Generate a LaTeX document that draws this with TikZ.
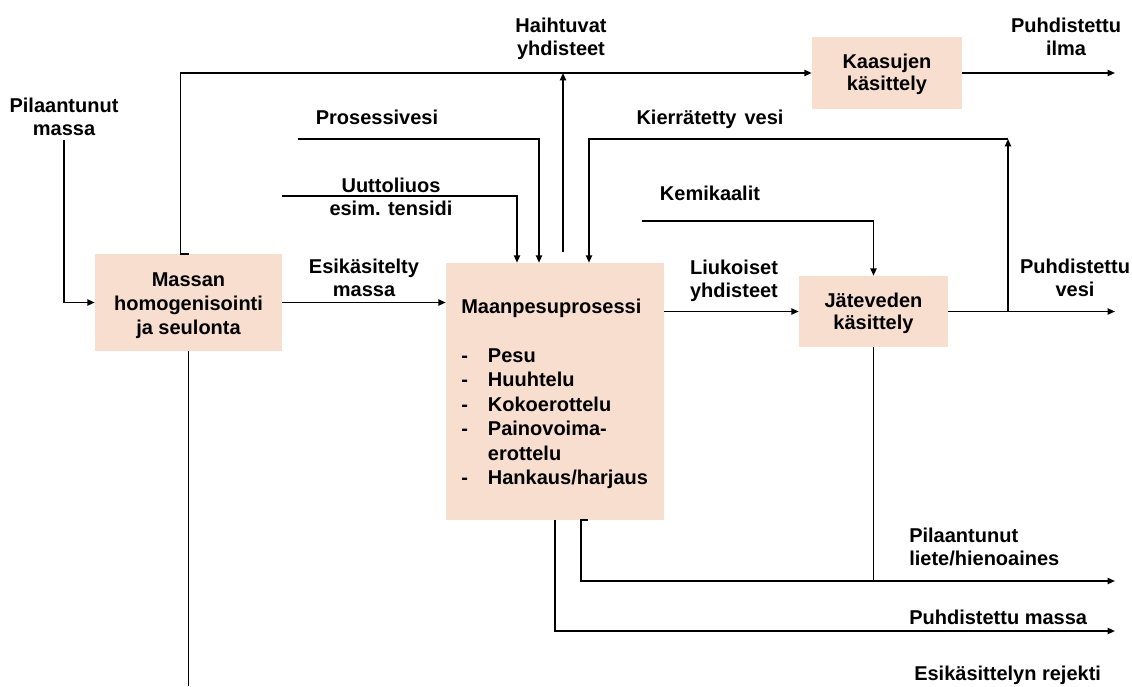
\documentclass[tikz,border=0pt]{standalone}
\usepackage{fontspec}
\setmainfont{Liberation Sans}
\usetikzlibrary{arrows.meta}
\definecolor{boxfill}{RGB}{248,222,206}
% stacked lines whose baseline is the first line
\newcommand{\stack}[2][c]{\begin{tabular}[t]{@{}#1@{}}#2\end{tabular}}

\begin{document}
\begin{tikzpicture}[
  x=0.75pt, y=-0.75pt,
  font=\fontsize{15}{17.5}\selectfont\bfseries,
  proc/.style={fill=boxfill, draw=none, inner sep=0pt},
  lbl/.style={inner sep=0pt, anchor=base},
  lblw/.style={inner sep=0pt, anchor=base west},
  flow/.style={line width=1.2pt, line join=miter},
  arr/.style={flow, -{Triangle[length=5.5pt,width=4.6pt]}}
]
\useasboundingbox (0,0) rectangle (1132,686);

% process boxes
\node[proc, minimum width=140.25pt, minimum height=72.75pt] (homog) at (188.5,302.5) {};
\node[proc, minimum width=163.5pt, minimum height=192.75pt] (wash) at (555,391.5) {};
\node[proc, minimum width=112.5pt, minimum height=54pt] (gas) at (887,73) {};
\node[proc, minimum width=111.75pt, minimum height=53.25pt] (water) at (873.5,311.5) {};

% box texts
\node[lbl, font=\fontsize{15}{18}\selectfont\bfseries] (thomog) at (188.5,286)
  {\stack{Massan\\homogenisointi\\ja seulonta}};
\node[lblw, font=\fontsize{15}{18.4}\selectfont\bfseries] (twash) at (461,313)
  {\begin{tabular}[t]{@{}l@{\hspace{15pt}}l@{}}
   \multicolumn{2}{@{}l@{}}{Maanpesuprosessi}\\
   \\
   -&Pesu\\
   -&Huuhtelu\\
   -&Kokoerottelu\\
   -&Painovoima-\\
    &erottelu\\
   -&Hankaus/harjaus
   \end{tabular}};
\node[lbl, font=\fontsize{15}{17}\selectfont\bfseries] (tgas) at (887,68)
  {\stack{Kaasujen\\käsittely}};
\node[lbl, font=\fontsize{15}{16.5}\selectfont\bfseries] (twater) at (873.5,307)
  {\stack{Jäteveden\\käsittely}};

% free ends of the streams
\coordinate (soilin)  at (64,140);
\coordinate (procw)   at (298,139);
\coordinate (leach)   at (282,196);
\coordinate (volbot)  at (563,252);
\coordinate (voltop)  at (563,73);
\coordinate (chem)    at (642,221);
\coordinate (split)   at (1008,311.5);
\coordinate (recyc)   at (1008,139);
\coordinate (airout)  at (1115,73);
\coordinate (wout)    at (1115,311.5);
\coordinate (sludge)  at (1115,581);
\coordinate (clean)   at (1115,631);
\coordinate (reject)  at (188.5,686);

% stream labels
\node[lbl] (tsoil)  at (64,112)   {\stack{Pilaantunut\\massa}};
\node[lbl] (tproc)  at (377,124)  {Prosessivesi};
\node[lbl] (tleach) at (391,192)  {\stack{Uuttoliuos\\esim. tensidi}};
\node[lbl] (tpre)   at (364,273)  {\stack{Esikäsitelty\\massa}};
\node[lbl] (tvol)   at (561,32)   {\stack{Haihtuvat\\yhdisteet}};
\node[lbl] (trec)   at (710,124)  {Kierrätetty\hspace{6pt}vesi};
\node[lbl] (tchem)  at (710,200)  {Kemikaalit};
\node[lbl] (tdiss)  at (734,274)  {\stack{Liukoiset\\yhdisteet}};
\node[lbl] (tair)   at (1066,32)  {\stack{Puhdistettu\\ilma}};
\node[lbl] (twat)   at (1075,273) {\stack{Puhdistettu\\vesi}};
\node[lblw] (tslu)  at (909,542)  {\stack[l]{Pilaantunut\\liete/hienoaines}};
\node[lblw] (tcln)  at (909,624)  {Puhdistettu massa};
\node[lblw] (trej)  at (914,680)  {Esikäsittelyn rejekti};

% connectors
\draw[arr] (soilin) |- (homog.west);
\draw[arr] (homog.north) -- ++(-8,0) |- (gas.west);
\draw[arr] (homog.east) -- (homog.east -| wash.west);
\draw[arr] (procw) -| (wash.north -| 539,0);
\draw[arr] (leach) -| (wash.north -| 517,0);
\draw[arr] (volbot) -- (voltop);
\draw[arr] (split) -- (recyc);
\draw[arr] (recyc) -| (wash.north -| 589,0);
\draw[arr] (chem) -| (water.north);
\draw[arr] (water.west -| wash.east) -- (water.west);
\draw[arr] (water.east) -- (wout);
\draw[arr] (gas.east) -- (airout);
\draw[flow] (water.south) -- (water.south |- sludge);
\draw[arr] (wash.south -| 588,0) -- (wash.south -| 581,0) |- (sludge);
\draw[arr] (wash.south) |- (clean);
\draw[flow] (homog.south) -- (reject);
\end{tikzpicture}
\end{document}
